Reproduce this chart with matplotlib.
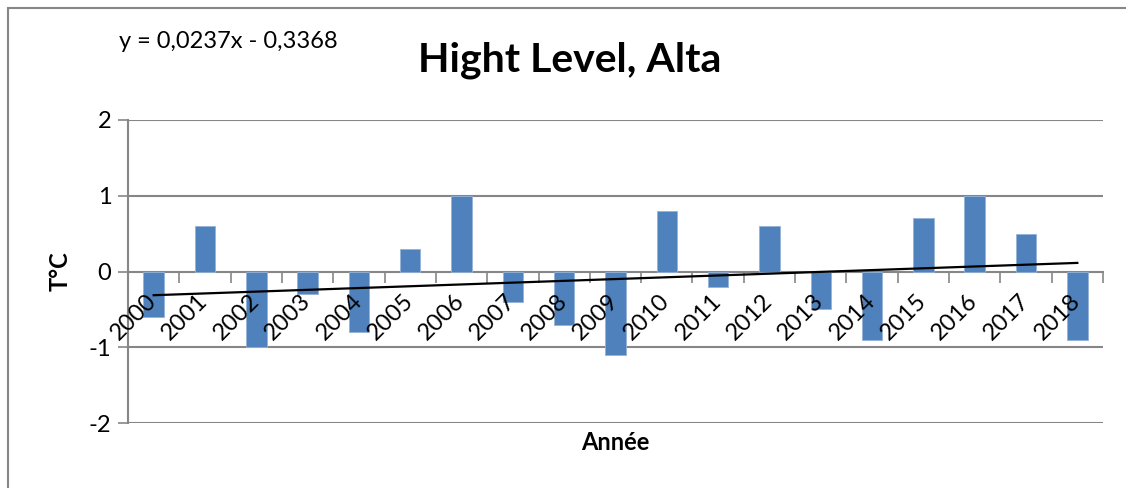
import matplotlib
matplotlib.use("Agg")
import matplotlib.pyplot as plt
import numpy as np
from matplotlib.transforms import ScaledTranslation
from matplotlib.patches import Rectangle

plt.rcParams['font.family'] = ['Lato', 'DejaVu Sans']

# data
years = ['2000', '2001', '2002', '2003', '2004', '2005', '2006', '2007', '2008', '2009',
         '2010', '2011', '2012', '2013', '2014', '2015', '2016', '2017', '2018']
anomaly = [-0.6, 0.6, -1.0, -0.3, -0.8, 0.3, 1.0, -0.4, -0.7, -1.1,
           0.8, -0.2, 0.6, -0.5, -0.9, 0.7, 1.0, 0.5, -0.9]
trend_slope = 0.0237
trend_intercept = -0.3368
yticks = [-2, -1, 0, 1, 2]

W, H = 1126, 488
fig = plt.figure(figsize=(W / 100, H / 100), dpi=100)
ax = fig.add_axes([128 / W, 1 - 423 / H, (1103 - 128) / W, (423 - 120) / H])

grey = '#868686'
x = np.arange(len(years))
ax.bar(x, anomaly, width=0.4, color='#4F81BD', edgecolor='#95B3D7', linewidth=0.6, zorder=3)

# linear trend (Excel numbers categories from 1)
xt = np.array([1, len(years)])
ax.plot(xt - 1, trend_slope * xt + trend_intercept, color='black', lw=1.6, zorder=4)

ax.set_xlim(-0.5, len(years) - 0.5)
ax.set_ylim(-2, 2)
ax.set_yticks(yticks)
ax.set_yticklabels([str(v) for v in yticks], fontsize=17)
ax.tick_params(axis='y', direction='out', length=7, width=1.2, color=grey, pad=5)
for v in yticks:
    if v != 0:
        ax.axhline(v, color=grey, lw=1.5, zorder=1)

ax.spines['bottom'].set_position(('data', 0))
ax.spines['bottom'].set_color(grey)
ax.spines['bottom'].set_linewidth(1.5)
ax.spines['bottom'].set_zorder(2)
ax.spines['left'].set_color(grey)
ax.spines['left'].set_linewidth(1.5)
ax.spines['top'].set_visible(False)
ax.spines['right'].set_visible(False)

ax.set_xticks([])
ax.set_xticks(np.arange(len(years) + 1) - 0.5, minor=True)
ax.tick_params(axis='x', which='minor', direction='out', length=8, width=1.2, color=grey)

off = ScaledTranslation(7 / 100, -19 / 100, fig.dpi_scale_trans)
for i, yr in enumerate(years):
    ax.text(i, 0, yr, transform=ax.transData + off, rotation=45,
            ha='right', va='top', fontsize=17, zorder=5)

fig.text(570 / W, 1 - 60 / H, 'Hight Level, Alta', ha='center', va='center',
         fontsize=29.5, fontweight='bold')
fig.text(119 / W, 1 - 42 / H, 'y = 0,0237x - 0,3368', ha='left', va='center', fontsize=17)
fig.text(60 / W, 1 - 271 / H, 'T°C', rotation=90, ha='center', va='center',
         fontsize=17, fontweight='bold')
fig.text(615 / W, 1 - 443 / H, 'Année', ha='center', va='center',
         fontsize=17, fontweight='bold')

fig.patches.append(Rectangle((8 / W, -0.05), 1.2, 1.05 - 8 / H, transform=fig.transFigure,
                             fill=False, edgecolor=grey, lw=1.5))

fig.savefig('out.png', dpi=100)
